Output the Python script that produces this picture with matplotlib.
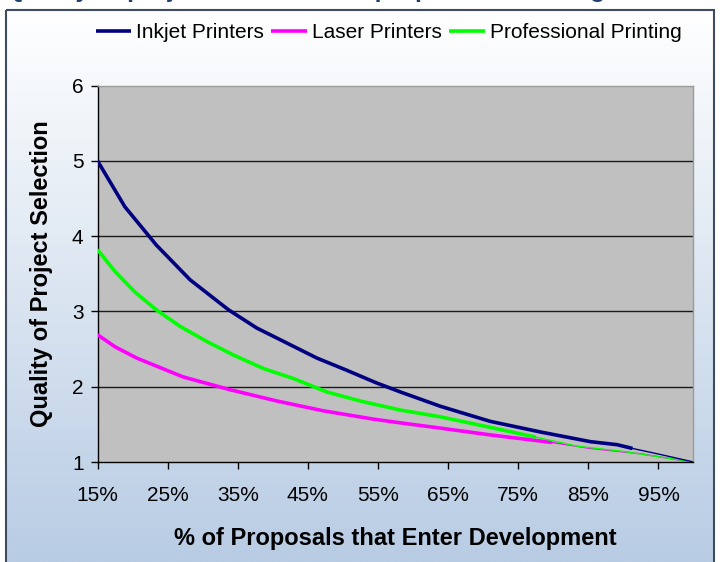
import matplotlib
matplotlib.use("Agg")
import matplotlib.pyplot as plt
import numpy as np
from matplotlib.patches import Rectangle

plt.rcParams['font.family'] = ['Liberation Sans', 'DejaVu Sans']

# ---- data ----
inkjet_x = [15, 18.9, 23.4, 28.2, 33.7, 37.7, 42.0, 46.3, 50.5, 54.8, 58.2, 63.9, 71.0, 78.1, 85.3, 89.1, 91.3]
inkjet_y = [5.00, 4.39, 3.88, 3.42, 3.02, 2.78, 2.58, 2.38, 2.22, 2.05, 1.93, 1.74, 1.54, 1.40, 1.27, 1.23, 1.18]
inkjet_tail_x = [91.3, 94.8, 98.6, 100]
inkjet_tail_y = [1.18, 1.11, 1.03, 1.00]

laser_x = [15, 17.5, 20.6, 27.2, 33.9, 40.6, 47.2, 54.3, 58.2, 63.9, 71.0, 79.8]
laser_y = [2.69, 2.53, 2.38, 2.13, 1.96, 1.81, 1.68, 1.57, 1.52, 1.45, 1.36, 1.26]
laser_tail_x = [79.8, 85.3, 92.4, 99, 100]
laser_tail_y = [1.26, 1.18, 1.11, 1.01, 1.00]

pro_x = [15, 17.5, 20.3, 23.4, 26.8, 30.6, 34.4, 38.7, 42.9, 47.7, 52.9, 58.2, 63.9, 71.0, 77.5]
pro_y = [3.82, 3.53, 3.26, 3.02, 2.80, 2.60, 2.42, 2.24, 2.11, 1.93, 1.80, 1.69, 1.60, 1.46, 1.33]
pro_tail_x = [77.5, 83.4, 90.0, 95.7, 100]
pro_tail_y = [1.33, 1.21, 1.14, 1.06, 1.00]

series_names = ["Inkjet Printers", "Laser Printers", "Professional Printing"]
x_ticks = [15, 25, 35, 45, 55, 65, 75, 85, 95]
x_tick_labels = ["15%", "25%", "35%", "45%", "55%", "65%", "75%", "85%", "95%"]
y_ticks = [1, 2, 3, 4, 5, 6]

title_text = "Quality of project selection vs. proposal screening"
x_label = "% of Proposals that Enter Development"
y_label = "Quality of Project Selection"

# ---- figure ----
W, H = 720, 562
fig = plt.figure(figsize=(W / 100, H / 100), dpi=100)
fig.patch.set_facecolor("white")

# background with gradient and border (pixel coordinates)
bg = fig.add_axes([0, 0, 1, 1], zorder=-5)
bg.set_xlim(0, W)
bg.set_ylim(H, 0)
bg.set_axis_off()
top_c = np.array([1.0, 1.0, 1.0])
bot_c = np.array([0xb8, 0xcc, 0xe4]) / 255.0
t = np.linspace(0, 1, 256)[:, None]
grad = (top_c[None, :] * (1 - t) + bot_c[None, :] * t)[:, None, :]
bg.imshow(grad, extent=[5.5, 714, H, 10], aspect="auto", interpolation="bilinear", zorder=0)
bg.add_patch(Rectangle((5.5, 10), 708.5, H + 10, fill=False, edgecolor="#3f4b5e", linewidth=1.5, zorder=2))
bg.set_xlim(0, W)
bg.set_ylim(H, 0)

# main axes
left, right, top, bottom = 97.5, 693.5, 85.5, 462.0
ax = fig.add_axes([left / W, (H - bottom) / H, (right - left) / W, (bottom - top) / H])
ax.set_facecolor("#c0c0c0")

c_ink, c_las, c_pro = "#000080", "#ff00ff", "#00ff00"
ax.plot(inkjet_x, inkjet_y, color=c_ink, lw=2.6, label=series_names[0], zorder=5, solid_capstyle="butt")
ax.plot(laser_x, laser_y, color=c_las, lw=2.6, label=series_names[1], zorder=4, solid_capstyle="butt")
ax.plot(pro_x, pro_y, color=c_pro, lw=2.6, label=series_names[2], zorder=4.5, solid_capstyle="butt")
ax.plot(inkjet_tail_x, inkjet_tail_y, color=c_ink, lw=1.0, zorder=5)
ax.plot(laser_tail_x, laser_tail_y, color=c_las, lw=1.0, zorder=4)
ax.plot(pro_tail_x, pro_tail_y, color=c_pro, lw=1.0, zorder=4.5)

ax.set_xlim(15, 100)
ax.set_ylim(1, 6)
ax.set_yticks(y_ticks)
ax.set_xticks(x_ticks)
ax.set_xticklabels(x_tick_labels)
for yv in [2, 3, 4, 5]:
    ax.axhline(yv, color="#1a1a1a", lw=1.0, zorder=2)

for s in ["left", "bottom"]:
    ax.spines[s].set_color("black")
    ax.spines[s].set_linewidth(1.0)
for s in ["top", "right"]:
    ax.spines[s].set_color("#9a9a9a")
    ax.spines[s].set_linewidth(1.0)

ax.tick_params(axis="both", direction="out", length=5, width=1, labelsize=15, colors="black")
ax.tick_params(axis="x", pad=12)
ax.tick_params(axis="y", pad=5)

ax.set_xlabel(x_label, fontsize=17, fontweight="bold", labelpad=16)
ax.set_ylabel(y_label, fontsize=17, fontweight="bold", labelpad=14)

fig.legend(loc="center", bbox_to_anchor=(388.5 / W, (H - 33) / H), ncol=3, frameon=False,
           fontsize=15, handlelength=1.7, handletextpad=0.25, columnspacing=0.35,
           borderaxespad=0)

# title, mostly above the top edge of the picture (as in the reference)
fig.text(305 / W, 1.0 + 3.0 / H, title_text, ha="center", va="baseline", fontsize=18,
         fontweight="bold", color="#1f3f6e")

fig.savefig("out.png", dpi=100)
